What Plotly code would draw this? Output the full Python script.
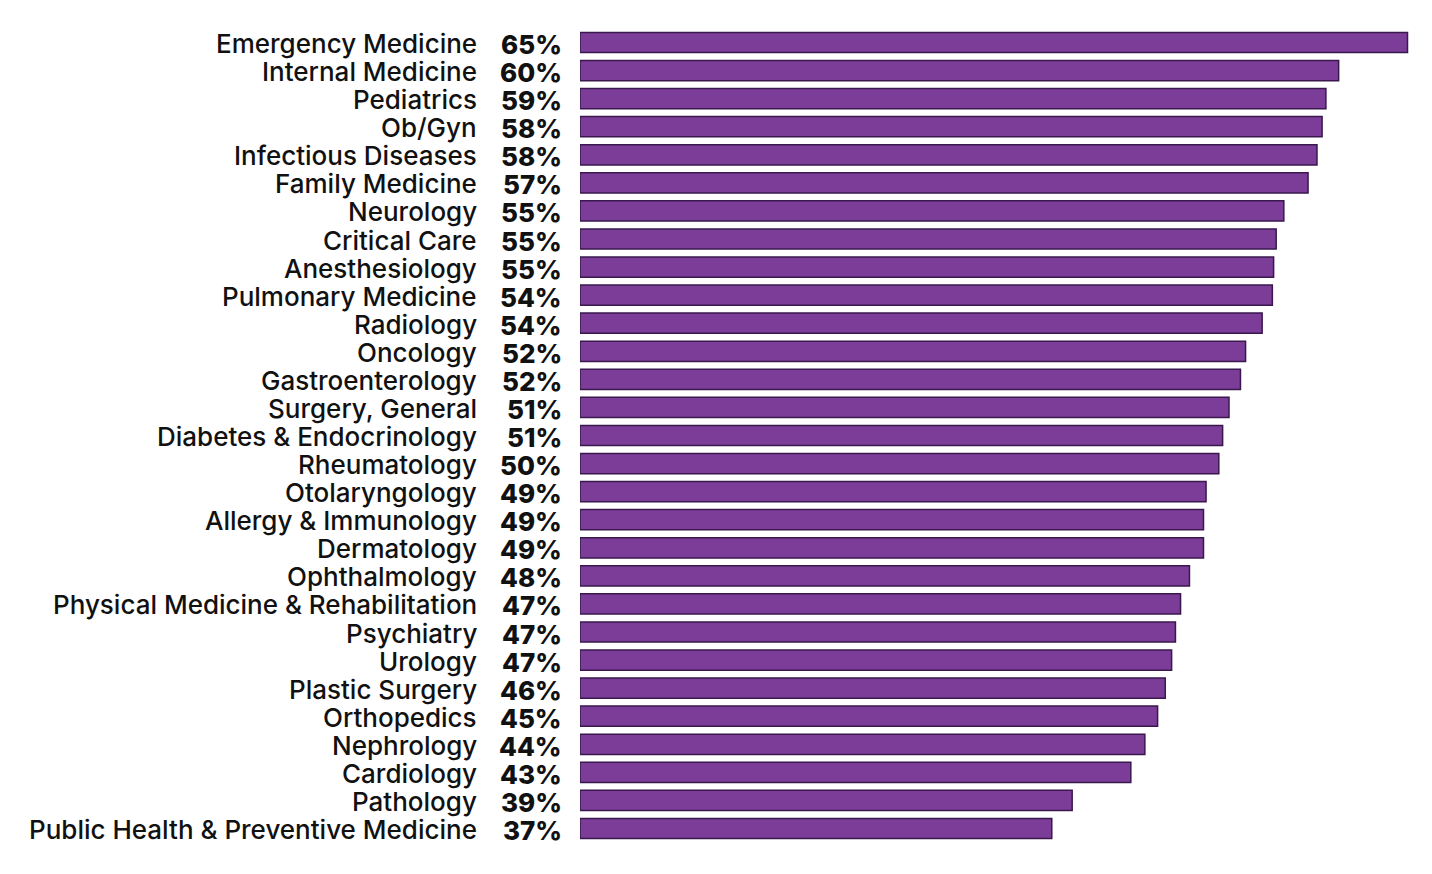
import plotly.graph_objects as go

specialties = [
    "Emergency Medicine", "Internal Medicine", "Pediatrics", "Ob/Gyn",
    "Infectious Diseases", "Family Medicine", "Neurology", "Critical Care",
    "Anesthesiology", "Pulmonary Medicine", "Radiology", "Oncology",
    "Gastroenterology", "Surgery, General", "Diabetes & Endocrinology",
    "Rheumatology", "Otolaryngology", "Allergy & Immunology", "Dermatology",
    "Ophthalmology", "Physical Medicine & Rehabilitation", "Psychiatry",
    "Urology", "Plastic Surgery", "Orthopedics", "Nephrology", "Cardiology",
    "Pathology", "Public Health & Preventive Medicine",
]
# bar lengths
values = [64.9, 59.5, 58.5, 58.2, 57.8, 57.1, 55.2, 54.6, 54.4, 54.3, 53.5,
          52.2, 51.8, 50.9, 50.4, 50.1, 49.1, 48.9, 48.9, 47.8, 47.1, 46.7,
          46.4, 45.9, 45.3, 44.3, 43.2, 38.6, 37.0]
# printed labels
labels = ["65%", "60%", "59%", "58%", "58%", "57%", "55%", "55%", "55%",
          "54%", "54%", "52%", "52%", "51%", "51%", "50%", "49%", "49%",
          "49%", "48%", "47%", "47%", "47%", "46%", "45%", "44%", "43%",
          "39%", "37%"]

fig = go.Figure()
fig.add_trace(go.Bar(
    x=values, y=specialties, orientation="h",
    marker=dict(color="#7b3d98", line=dict(color="#3a184e", width=1.5)),
    width=0.72, hoverinfo="skip",
))

for s, lab in zip(specialties, labels):
    fig.add_annotation(
        x=0, xref="paper", y=s, yref="y", text=s, showarrow=False,
        xanchor="right", xshift=-101, yshift=-1,
        font=dict(family="Inter", size=26, color="#111111", weight=500),
    )
    fig.add_annotation(
        x=0, xref="paper", y=s, yref="y", text=lab, showarrow=False,
        xanchor="right", xshift=-16, yshift=-2,
        font=dict(family="Inter", size=26, color="#111111", weight=800),
    )

fig.update_layout(
    width=1416, height=858,
    margin=dict(l=572, r=4, t=15, b=21),
    paper_bgcolor="white", plot_bgcolor="white",
    showlegend=False,
    xaxis=dict(range=[0, 65.88], visible=False, fixedrange=True),
    yaxis=dict(
        autorange="reversed", showgrid=False, zeroline=False, showline=False,
        showticklabels=False, ticks="", fixedrange=True,
    ),
)

fig.write_html("out.html")
